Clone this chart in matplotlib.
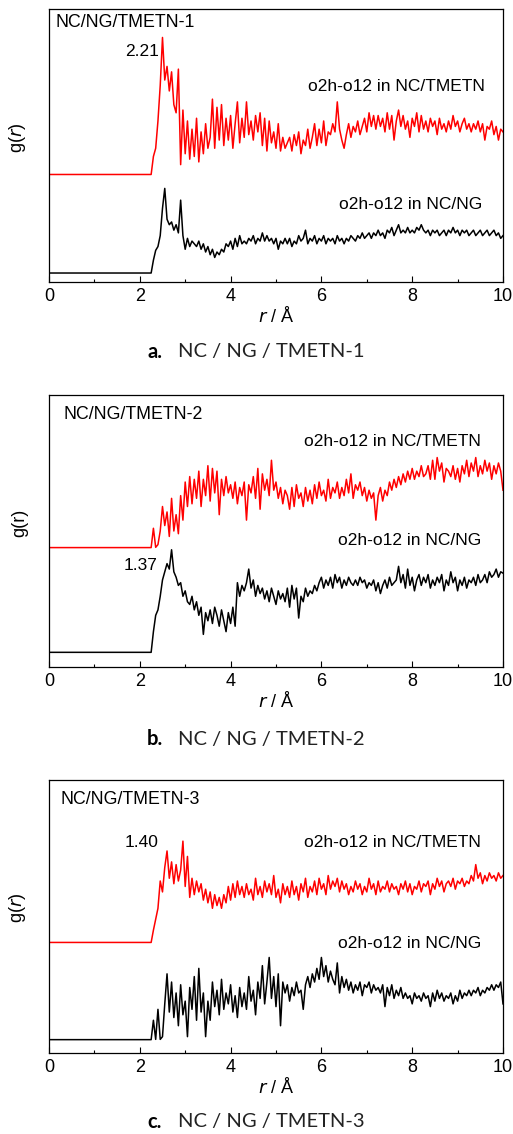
import numpy as np
import matplotlib
matplotlib.use("Agg")
from matplotlib import pyplot as plt

plt.rcParams['font.family'] = ['Liberation Sans', 'DejaVu Sans']

# r grid: 2.25 .. 10.00 A every 0.05 A (curves are flat from r = 0 to 2.25)
r_step = 0.05
r_start = 2.25

# ---- panel a: NC/NG/TMETN-1 ----
red_a = [3.94,
         4.6, 4.9, 5.9, 7.2, 8.96, 7.4, 7.9, 7.0, 7.7, 6.5,
         6.2, 7.8, 4.3, 6.3, 4.7, 5.9, 4.5, 5.6, 4.6, 6.0,
         4.4, 5.5, 4.7, 5.8, 4.9, 5.3, 6.7, 4.9, 6.4, 5.2,
         6.5, 5.0, 6.0, 5.2, 6.1, 4.9, 5.8, 6.6, 5.1, 6.0,
         5.3, 6.6, 5.4, 5.9, 5.2, 6.1, 5.5, 6.2, 5.0, 6.0,
         4.8, 5.9, 5.1, 5.5, 4.9, 5.8, 4.8, 5.3, 4.9, 5.1,
         5.3, 4.8, 5.4, 5.0, 5.5, 4.7, 5.2, 5.0, 5.6, 4.9,
         5.3, 5.8, 5.0, 5.6, 5.1, 5.9, 5.0, 5.5, 5.4, 5.8,
         5.5, 6.6, 5.6, 5.2, 4.9, 5.4, 5.8, 5.3, 5.7, 5.5,
         5.9, 5.4, 5.7, 6.0, 5.5, 6.2, 5.7, 6.1, 5.6, 6.1,
         5.7, 6.0, 5.5, 6.2, 5.6, 6.1, 5.2, 5.9, 6.3, 5.7,
         6.1, 5.6, 5.9, 5.3, 6.0, 5.7, 6.2, 5.5, 6.1, 5.6,
         5.9, 5.5, 6.0, 5.7, 5.9, 5.4, 6.0, 5.6, 5.8, 5.5,
         5.9, 5.6, 6.1, 5.7, 5.9, 5.5, 5.8, 6.0, 5.6, 5.8,
         5.5, 5.8, 5.6, 5.9, 5.5, 5.8, 5.2, 5.7, 5.6, 5.9,
         5.4, 5.7, 5.2, 5.6, 5.5]
black_a = [0.33,
           0.8, 1.16, 1.3, 1.7, 2.7, 3.43, 2.3, 2.1, 2.2, 1.9,
           2.1, 1.8, 3.0, 1.7, 1.2, 1.6, 1.3, 1.5, 1.4, 1.3,
           1.5, 1.2, 1.4, 1.1, 1.3, 1.0, 1.2, 0.9, 1.1, 1.0,
           1.2, 1.1, 1.4, 1.3, 1.5, 1.2, 1.6, 1.3, 1.7, 1.4,
           1.5, 1.4, 1.6, 1.5, 1.7, 1.4, 1.6, 1.5, 1.8, 1.5,
           1.7, 1.5, 1.6, 1.4, 1.6, 1.2, 1.5, 1.4, 1.6, 1.4,
           1.6, 1.3, 1.5, 1.4, 1.7, 1.5, 1.6, 1.9, 1.4, 1.6,
           1.5, 1.7, 1.4, 1.6, 1.5, 1.7, 1.4, 1.6, 1.5, 1.6,
           1.4, 1.7, 1.5, 1.6, 1.4, 1.6, 1.5, 1.7, 1.6, 1.5,
           1.7, 1.6, 1.8, 1.6, 1.7, 1.8, 1.6, 1.8, 1.7, 1.9,
           1.7, 1.8, 1.6, 1.9, 1.8, 2.0, 1.7, 1.9, 2.1, 1.8,
           1.9, 1.8, 2.0, 1.8, 1.9, 1.8, 2.0, 1.9, 2.1, 1.9,
           1.8, 1.9, 1.7, 1.9, 1.8, 1.9, 1.7, 1.8, 1.9, 1.7,
           1.9, 1.8, 2.0, 1.8, 1.9, 1.7, 1.9, 1.8, 1.9, 1.7,
           1.8, 1.9, 1.7, 1.8, 1.9, 1.7, 1.8, 1.9, 1.7, 1.8,
           1.9, 1.7, 1.8, 1.6, 1.7]

# ---- panel b: NC/NG/TMETN-2 ----
red_b = [4.39,
         5.1, 4.4, 4.5, 5.0, 5.9, 5.2, 5.7, 4.8, 6.2, 5.0,
         5.6, 4.9, 6.3, 5.4, 6.8, 5.9, 7.0, 6.0, 6.9, 6.2,
         7.2, 5.9, 6.9, 6.3, 7.4, 6.1, 7.3, 6.4, 7.2, 5.6,
         6.9, 6.3, 7.0, 6.4, 6.7, 6.2, 6.8, 6.0, 6.6, 6.3,
         6.8, 5.4, 6.7, 6.4, 7.0, 6.2, 7.3, 5.8, 7.1, 6.5,
         6.9, 6.3, 7.6, 6.5, 6.8, 6.2, 6.6, 6.0, 6.5, 6.3,
         5.8, 6.6, 5.9, 6.7, 6.2, 6.4, 5.9, 6.6, 6.1, 6.5,
         6.0, 6.7, 6.2, 6.8, 6.3, 6.5, 6.1, 6.9, 6.2, 6.6,
         6.4, 6.8, 6.2, 6.6, 6.3, 6.9, 6.4, 7.1, 6.2, 6.7,
         6.5, 6.8, 6.3, 6.6, 6.1, 6.5, 6.2, 6.4, 5.4, 6.3,
         6.6, 6.1, 6.5, 6.3, 6.8, 6.5, 6.9, 6.6, 7.0, 6.7,
         7.1, 6.8, 7.2, 6.9, 7.3, 6.9, 7.2, 7.0, 7.4, 7.0,
         7.1, 7.4, 6.9, 7.6, 6.9, 7.7, 7.2, 7.5, 6.8, 7.3,
         7.2, 7.0, 7.4, 6.9, 7.3, 6.8, 7.4, 7.1, 7.6, 7.0,
         7.5, 7.2, 7.7, 7.0, 7.4, 7.1, 7.6, 7.2, 7.5, 6.9,
         7.4, 7.1, 7.5, 7.2, 6.5]
black_b = [0.54,
           1.3, 1.9, 2.1, 2.6, 3.2, 3.5, 3.8, 3.6, 4.31, 3.5,
           3.3, 3.0, 3.1, 2.6, 2.8, 2.4, 2.3, 2.6, 2.1, 2.4,
           1.9, 2.2, 1.2, 2.0, 1.7, 2.1, 1.6, 2.2, 1.9, 1.5,
           2.1, 1.7, 1.3, 2.0, 1.6, 2.2, 1.5, 3.1, 2.6, 3.0,
           2.8, 3.1, 3.6, 2.9, 3.2, 2.6, 3.0, 2.7, 2.9, 2.5,
           2.8, 2.4, 2.9, 2.6, 2.3, 2.8, 2.5, 2.7, 2.4, 2.9,
           2.2, 3.0, 2.5, 2.9, 1.8, 2.6, 2.4, 2.9, 2.6, 2.8,
           2.7, 3.0, 2.8, 3.1, 3.3, 2.9, 3.2, 3.0, 3.3, 2.9,
           3.4, 3.1, 3.3, 2.9, 3.2, 3.0, 3.3, 3.1, 3.0, 3.2,
           3.0, 3.3, 3.1, 3.2, 2.9, 3.1, 3.0, 3.2, 2.8, 3.1,
           2.7, 3.0, 3.2, 2.9, 3.3, 3.0, 3.1, 3.2, 3.7, 3.1,
           3.4, 2.9, 3.6, 3.0, 3.3, 2.8, 3.2, 3.4, 3.0, 3.3,
           3.1, 3.4, 2.9, 3.2, 3.0, 3.3, 3.1, 3.4, 2.8, 3.2,
           3.0, 3.5, 3.1, 3.3, 2.8, 3.2, 3.0, 3.3, 2.9, 3.2,
           3.1, 3.3, 3.0, 3.4, 3.1, 3.2, 3.4, 3.1, 3.5, 3.3,
           3.4, 3.6, 3.3, 3.5, 3.45]

# ---- panel c: NC/NG/TMETN-3 ----
red_c = [4.05,
         4.5, 4.9, 5.3, 6.3, 5.9, 6.8, 7.4, 6.4, 7.0, 6.2,
         6.9, 6.3, 6.7, 7.76, 6.1, 7.2, 5.7, 6.4, 5.8, 6.3,
         5.9, 6.2, 5.6, 6.0, 5.5, 5.9, 5.3, 5.8, 5.4, 5.7,
         5.3, 5.8, 5.5, 6.1, 5.6, 6.2, 5.7, 6.3, 5.8, 6.1,
         5.7, 6.2, 5.8, 6.0, 5.6, 6.4, 5.8, 6.1, 5.7, 6.3,
         5.9, 6.2, 5.8, 6.5, 5.7, 6.0, 5.5, 6.2, 5.8, 6.1,
         5.7, 6.3, 5.8, 6.1, 5.6, 6.2, 5.9, 6.4, 5.7, 6.1,
         5.9, 6.3, 5.8, 6.4, 6.0, 6.2, 5.8, 6.5, 6.0, 6.3,
         6.1, 6.4, 5.9, 6.3, 6.0, 6.2, 5.8, 6.1, 5.9, 6.3,
         6.0, 6.2, 5.8, 6.1, 5.9, 6.4, 6.0, 6.2, 5.8, 6.3,
         5.9, 6.1, 6.0, 6.3, 5.9, 6.2, 6.0, 6.1, 5.8, 6.2,
         6.0, 6.3, 5.9, 6.2, 5.8, 6.1, 6.0, 6.3, 5.9, 6.2,
         6.1, 6.3, 5.8, 6.2, 6.0, 6.4, 6.1, 6.3, 5.9, 6.2,
         6.3, 6.1, 6.4, 6.0, 6.3, 6.2, 6.4, 6.1, 6.3, 6.2,
         6.5, 6.3, 6.9, 6.4, 6.6, 6.2, 6.5, 6.3, 6.6, 6.4,
         6.5, 6.3, 6.6, 6.4, 6.5]
black_c = [0.49,
           1.2, 0.5, 1.6, 0.5, 0.6, 1.8, 2.9, 1.5, 2.6, 1.3,
           2.2, 1.0, 2.5, 1.4, 1.9, 0.6, 2.4, 1.6, 2.8, 1.2,
           3.1, 1.5, 2.2, 0.6, 1.9, 1.2, 2.6, 1.7, 2.3, 1.4,
           2.7, 1.6, 2.2, 1.8, 2.5, 1.5, 2.1, 1.3, 2.4, 1.7,
           2.2, 1.6, 2.8, 1.9, 2.3, 1.4, 2.6, 2.0, 3.2, 1.8,
           2.6, 3.5, 2.0, 2.8, 1.7, 2.9, 1.0, 2.6, 2.2, 2.5,
           1.9, 2.4, 2.1, 2.6, 2.2, 2.3, 1.6, 2.5, 2.8, 2.4,
           2.9, 2.6, 3.1, 2.7, 3.5, 2.8, 3.2, 2.6, 3.0, 2.7,
           2.5, 3.3, 2.2, 2.8, 2.4, 2.7, 2.3, 2.6, 2.2, 2.5,
           2.3, 2.6, 2.1, 2.5, 2.4, 2.6, 2.2, 2.5, 2.3, 2.4,
           2.2, 2.5, 1.7, 2.4, 2.1, 2.5, 2.0, 2.3, 2.1, 2.4,
           2.0, 2.2, 2.0, 2.1, 1.8, 2.2, 2.0, 2.1, 1.9, 2.2,
           2.0, 2.1, 1.7, 2.2, 1.9, 2.3, 2.0, 2.2, 1.9, 2.1,
           2.0, 2.2, 1.8, 2.1, 1.9, 2.3, 2.0, 2.2, 2.1, 2.3,
           2.1, 2.3, 2.2, 2.4, 2.1, 2.3, 2.2, 2.4, 2.3, 2.5,
           2.3, 2.5, 2.4, 2.6, 1.8]

panel_names = ["NC/NG/TMETN-1", "NC/NG/TMETN-2", "NC/NG/TMETN-3"]
caption_letters = ["a.", "b.", "c."]
peak_labels = ["2.21", "1.37", "1.40"]
red_label = "o2h-o12 in NC/TMETN"
black_label = "o2h-o12 in NC/NG"


def full_curve(vals):
    vals = np.asarray(vals)
    r = r_start + r_step * np.arange(len(vals))
    return np.concatenate([[0.0], r]), np.concatenate([[vals[0]], vals])


fig = plt.figure(figsize=(5.13, 11.34), dpi=100)

# axes boxes in figure fraction
boxes = [[0.0955, 0.7513, 0.885, 0.2407],
         [0.0955, 0.4118, 0.885, 0.2399],
         [0.0955, 0.0714, 0.885, 0.2408]]
# where the text items sit, in (r, y) data units
title_pos = [(0.15, 9.49), (0.31, 9.27), (0.26, 9.30)]
red_lab_pos = [(9.61, 7.18), (9.52, 8.29), (9.52, 7.71)]
black_lab_pos = [(9.54, 2.85), (9.52, 4.64), (9.52, 4.01)]
peak_pos = [(2.42, 8.45), (2.40, 3.72), (2.42, 7.70)]
caption_y = [352, 739, 1122]

reds = [red_a, red_b, red_c]
blacks = [black_a, black_b, black_c]

fs = 12.5

for i in range(3):
    ax = fig.add_axes(boxes[i])
    xr, yr = full_curve(reds[i])
    xb, yb = full_curve(blacks[i])
    ax.plot(xr, yr, color='#ff0000', lw=1.1)
    ax.plot(xb, yb, color='black', lw=1.1)
    ax.set_xlim(0, 10)
    ax.set_ylim(0, 10)
    ax.set_yticks([])
    ax.set_xticks([0, 2, 4, 6, 8, 10])
    ax.set_xticks([1, 3, 5, 7, 9], minor=True)
    ax.tick_params(axis='x', which='major', direction='in', length=4, width=0.8,
                   labelsize=13, pad=4)
    ax.tick_params(axis='x', which='minor', direction='in', length=2.5, width=0.8)
    for s in ax.spines.values():
        s.set_linewidth(0.9)
    ax.set_xlabel(r'$\it{r}$ / Å', fontsize=13, labelpad=1)
    if i == 1:
        ax.set_ylabel('g(r)', fontsize=13)
    else:
        ax.set_ylabel(r'g($\it{r}$)', fontsize=13)
    ax.yaxis.set_label_coords(-0.046, 0.53)

    ax.text(*title_pos[i], panel_names[i], fontsize=12.8, ha='left', va='center')
    ax.text(*red_lab_pos[i], red_label, fontsize=fs, ha='right', va='center')
    ax.text(*black_lab_pos[i], black_label, fontsize=fs, ha='right', va='center')
    ax.text(*peak_pos[i], peak_labels[i], fontsize=fs, ha='right', va='center')

    yfig = 1 - caption_y[i] / 1134
    fig.text(147 / 513, yfig, caption_letters[i], fontsize=14.5, fontweight='bold',
             family=['Lato', 'DejaVu Sans'], ha='left', va='center')
    fig.text(178 / 513, yfig, panel_names[i].replace('/', ' / '), fontsize=14.5,
             family=['Lato', 'DejaVu Sans'], ha='left', va='center', color='#222222')

fig.savefig('out.png', dpi=100)
